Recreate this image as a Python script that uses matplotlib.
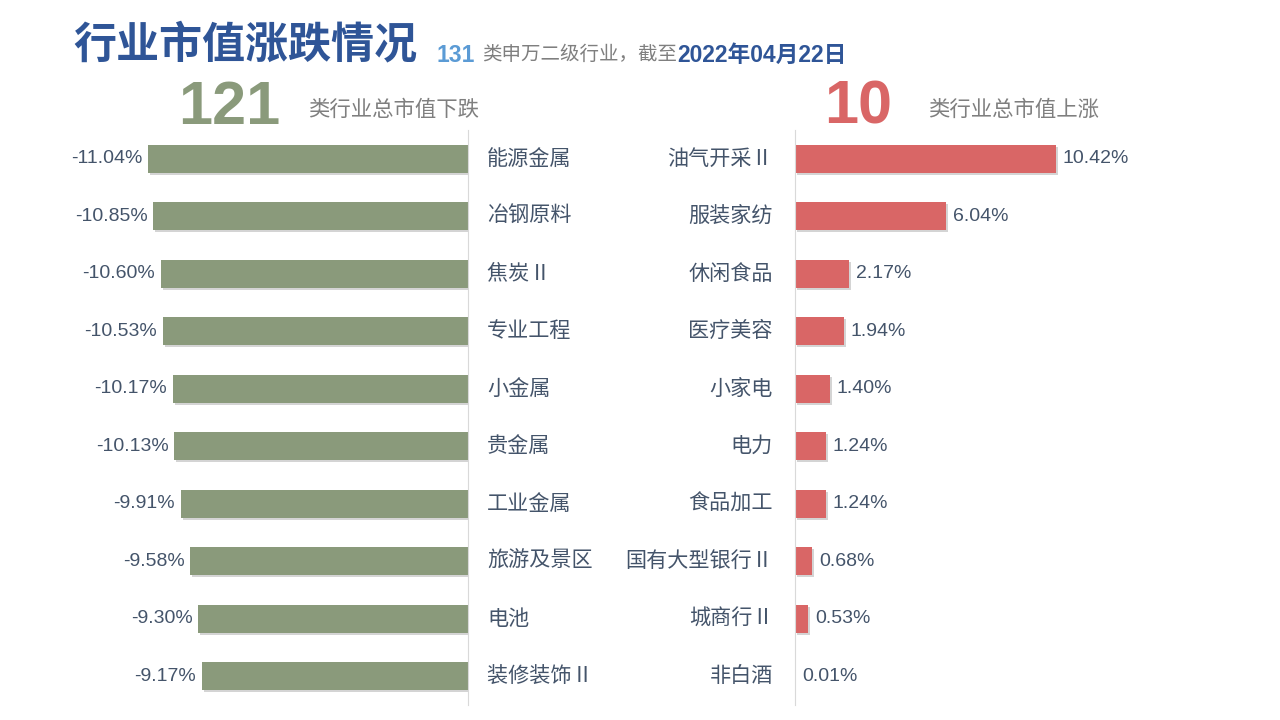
import matplotlib
matplotlib.use('Agg')
import matplotlib.pyplot as plt
import matplotlib.patheffects as pe
from matplotlib.transforms import blended_transform_factory

plt.rcParams['font.family'] = ['Liberation Sans', 'Noto Sans CJK SC', 'DejaVu Sans']

# datos
down_names = ['能源金属', '冶钢原料', '焦炭 II', '专业工程', '小金属', '贵金属',
              '工业金属', '旅游及景区', '电池', '装修装饰 II']
down_vals = [-11.04, -10.85, -10.60, -10.53, -10.17, -10.13, -9.91, -9.58, -9.30, -9.17]
up_names = ['油气开采Ⅱ', '服装家纺', '休闲食品', '医疗美容', '小家电', '电力',
            '食品加工', '国有大型银行Ⅱ', '城商行Ⅱ', '非白酒']
up_vals = [10.42, 6.04, 2.17, 1.94, 1.40, 1.24, 1.24, 0.68, 0.53, 0.01]
n_down = 121
n_up = 10
n_total = 131
fecha = '2022年04月22日'

W, H = 1280, 720
green = '#8A9A7B'
red = '#D96666'
txt = '#44546A'
gris = '#7F7F7F'
azul = '#2F5597'
cjk = ['Noto Sans CJK SC', 'DejaVu Sans']

fig = plt.figure(figsize=(12.8, 7.2), dpi=100)

def rect(x0, y0, x1, y1):
    # pixel coords (top-left origin) -> figure fraction
    return [x0 / W, 1 - y1 / H, (x1 - x0) / W, (y1 - y0) / H]

top, bot = 130, 705
axL = fig.add_axes(rect(60, top, 468, bot))
axR = fig.add_axes(rect(795, top, 1200, bot))

shadow = [pe.SimplePatchShadow(offset=(1.5, -1.5), shadow_rgbFace='#555555', alpha=0.25), pe.Normal()]

n = len(down_vals)
ys = list(range(n))

axL.barh(ys, down_vals, height=0.49, color=green, path_effects=shadow)
axL.set_xlim(-(468 - 60) / 29.0, 0)
axR.barh(ys, up_vals, height=0.49, color=red, path_effects=shadow)
axR.set_xlim(0, (1200 - 795) / 25.0)

for ax in (axL, axR):
    ax.set_ylim(n - 0.5, -0.5)
    ax.set_xticks([])
    ax.set_yticks([])
    for s in ax.spines.values():
        s.set_visible(False)
axL.spines['right'].set_visible(True)
axL.spines['right'].set_color('#D9D9D9')
axR.spines['left'].set_visible(True)
axR.spines['left'].set_color('#D9D9D9')

for i, v in enumerate(down_vals):
    axL.text(v - 0.2, i, '%.2f%%' % v, ha='right', va='center', fontsize=14, color=txt)
for i, v in enumerate(up_vals):
    axR.text(v + 0.28, i, '%.2f%%' % v, ha='left', va='center', fontsize=14, color=txt)

trL = blended_transform_factory(fig.transFigure, axL.transData)
for i, name in enumerate(down_names):
    fig.text(487 / W, i, name, transform=trL, ha='left', va='center', fontsize=15.2,
             color=txt, family=cjk)
trR = blended_transform_factory(fig.transFigure, axR.transData)
for i, name in enumerate(up_names):
    fig.text(773 / W, i, name, transform=trR, ha='right', va='center', fontsize=15.2,
             color=txt, family=cjk)

# titulos
fig.text(73 / W, 1 - 45 / H, '行业市值涨跌情况', fontsize=31, fontweight='bold', color=azul,
         ha='left', va='center')
fig.text(437 / W, 1 - 55 / H, str(n_total), fontsize=16.5, fontweight='bold', color='#5B9BD5',
         ha='left', va='center')
fig.text(482 / W, 1 - 55 / H, '类申万二级行业，截至', fontsize=14, color=gris,
         ha='left', va='center')
fig.text(677 / W, 1 - 55 / H, fecha, fontsize=16.4, fontweight='bold', color=azul,
         ha='left', va='center')

fig.text(178 / W, 1 - 108 / H, str(n_down), fontsize=44, fontweight='bold', color=green,
         ha='left', va='center')
fig.text(308 / W, 1 - 110 / H, '类行业总市值下跌', fontsize=15.4, color=gris,
         ha='left', va='center')
fig.text(824 / W, 1 - 108 / H, str(n_up), fontsize=44, fontweight='bold', color=red,
         ha='left', va='center')
fig.text(928 / W, 1 - 110 / H, '类行业总市值上涨', fontsize=15.4, color=gris,
         ha='left', va='center')

plt.savefig('out.png', dpi=100)
